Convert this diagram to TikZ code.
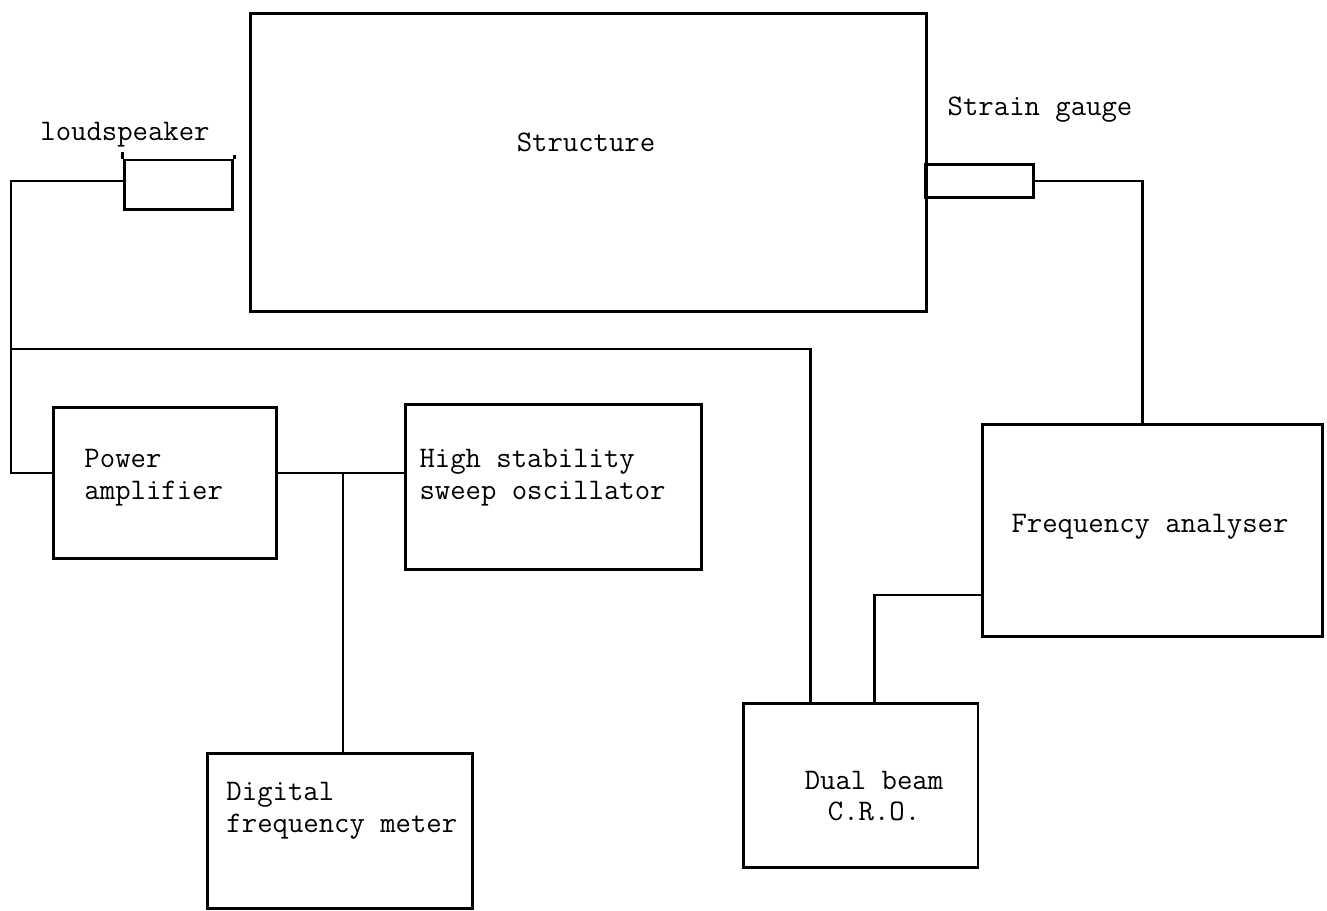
\documentclass[tikz,border=0pt]{standalone}
\usepackage{fontspec}

\begin{document}
\begin{tikzpicture}[x=0.02cm, y=-0.02cm, line width=1.7pt,
  box/.style={draw, inner sep=0pt},
  txt/.style={font=\ttfamily\fontsize{17}{18}\selectfont, inner sep=0pt, align=left}]
  \useasboundingbox (0,0) rectangle (1327,911);

  % Boxes
  \node[box, minimum width=13.54cm, minimum height=5.98cm] (str) at (588.5,162.5) {};
  \node[box, minimum width=2.18cm, minimum height=1.0cm] (spk) at (178.5,185) {};
  \node[box, minimum width=2.16cm, minimum height=0.66cm] (sg) at (979,181) {};
  \node[box, minimum width=4.48cm, minimum height=3.04cm] (pa) at (165,483) {};
  \node[box, minimum width=5.94cm, minimum height=3.32cm] (osc) at (553.5,487) {};
  \node[box, minimum width=5.32cm, minimum height=3.12cm] (dfm) at (340,831) {};
  \node[box, minimum width=6.82cm, minimum height=4.26cm] (fa) at (1152.5,530.5) {};
  \node[box, minimum width=4.70cm, minimum height=3.30cm] (cro) at (860.5,785.5) {};

  % Loudspeaker rim
  \draw (spk.north west) -- ++(0,-7);
  \draw (spk.north east) -- ++(0,-4);

  % Labels
  \node[txt] (strlbl) at (586,142) {Structure};
  \node[txt] (spklbl) at (125,135) {loudspeaker};
  \node[txt] (sglbl) at (1040,110) {Strain gauge};
  \node[txt, anchor=west] (palbl) at (83,478) {Power\\amplifier};
  \node[txt, anchor=west] (osclbl) at (418,478) {High stability\\sweep oscillator};
  \node[txt, anchor=west] (dfmlbl) at (225,811) {Digital\\frequency meter};
  \node[txt] (falbl) at (1150,527) {Frequency analyser};
  \node[txt, align=center] (crolbl) at (874,796) {Dual beam\\C.R.O.};

  % Wiring
  \coordinate (lw) at (11,181);
  \coordinate (pin) at (11,473);
  \draw (spk.west |- lw) -- (lw) -- (pin) -- (pa.west |- pin);

  \coordinate (bus) at (11,349);
  \coordinate (busr) at (810,349);
  \draw (bus) -- (busr) -- (busr |- cro.north);

  \coordinate (pout) at (343,473);
  \draw (pa.east |- pout) -- (osc.west |- pout);
  \draw (pout) -- (pout |- dfm.north);

  \coordinate (sgr) at (1142,181);
  \draw (sg.east) -- (sgr) -- (sgr |- fa.north);

  \coordinate (fal) at (874,595);
  \draw (fa.west |- fal) -- (fal) -- (fal |- cro.north);
\end{tikzpicture}
\end{document}
